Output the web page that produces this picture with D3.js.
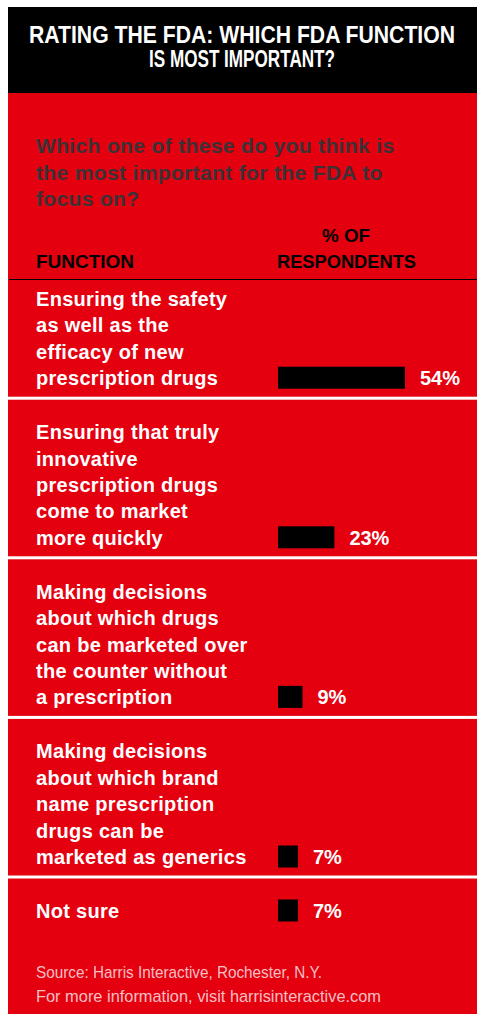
<!DOCTYPE html>
<html>
<head>
<meta charset="utf-8">
<script src="https://cdn.jsdelivr.net/npm/d3@7"></script>
<style>
  body { margin: 0; background: #fff; }
  svg { display: block; }
  text { font-family: "Liberation Sans", Arial, sans-serif; }
</style>
</head>
<body>
<div class="graphic"></div>
<script>
var titleLines = ["RATING THE FDA: WHICH FDA FUNCTION", "IS MOST IMPORTANT?"];
var questionLines = ["Which one of these do you think is", "the most important for the FDA to", "focus on?"];
var functions = [
    ["Ensuring the safety", "as well as the", "efficacy of new", "prescription drugs"],
    ["Ensuring that truly", "innovative", "prescription drugs", "come to market", "more quickly"],
    ["Making decisions", "about which drugs", "can be marketed over", "the counter without", "a prescription"],
    ["Making decisions", "about which brand", "name prescription", "drugs can be", "marketed as generics"],
    ["Not sure"]
];
var percents = [54, 23, 9, 7, 7];
var sourceLines = ["Source: Harris Interactive, Rochester, N.Y.", "For more information, visit harrisinteractive.com"];

var width = 477, height = 1014;
var red = "#e4000f";
var panelX = 8;
var textX = 36;
var barX = 278;
var lineH = 26.4;

var svg = d3.select(".graphic").append("svg")
    .attr("width", width)
    .attr("height", height);

// panels
svg.append("rect").attr("x", panelX).attr("y", 93).attr("width", width - panelX).attr("height", height - 93).attr("fill", red);
svg.append("rect").attr("x", panelX).attr("y", 7).attr("width", width - panelX).attr("height", 86).attr("fill", "#000");

// title (condensed face, squeezed to the widths in the picture)
var titleW = [426, 186];
svg.append("g").selectAll("text")
    .data(titleLines)
    .join("text")
    .attr("x", 242)
    .attr("y", (d, i) => 43 + i * 24)
    .attr("text-anchor", "middle")
    .attr("fill", "#fff")
    .attr("font-weight", "bold")
    .attr("font-size", 23.5)
    .attr("textLength", (d, i) => titleW[i])
    .attr("lengthAdjust", "spacingAndGlyphs")
    .text(d => d);

// question
svg.append("g").selectAll("text")
    .data(questionLines)
    .join("text")
    .attr("x", textX)
    .attr("y", (d, i) => 153 + i * 26.5)
    .attr("fill", "#3b3236")
    .attr("font-weight", "bold")
    .attr("font-size", 21)
    .attr("letter-spacing", 0.35)
    .text(d => d);

// column headers
var head = svg.append("g").attr("font-weight", "bold").attr("font-size", 17.5).attr("fill", "#000");
head.append("text").attr("x", textX).attr("y", 268).attr("textLength", 98).attr("lengthAdjust", "spacingAndGlyphs").text("FUNCTION");
head.append("text").attr("x", 346).attr("y", 242).attr("text-anchor", "middle").attr("textLength", 48).attr("lengthAdjust", "spacingAndGlyphs").text("% OF");
head.append("text").attr("x", 346.5).attr("y", 268).attr("text-anchor", "middle").attr("textLength", 139).attr("lengthAdjust", "spacingAndGlyphs").text("RESPONDENTS");
svg.append("line").attr("x1", 9).attr("x2", width).attr("y1", 279.5).attr("y2", 279.5).attr("stroke", "#000").attr("stroke-width", 1);

// row layout from line counts
var rows = [];
var rowTop = 280;
functions.forEach(function (lines, i) {
    var first = rowTop + (i === 0 ? 26 : 39.5);
    var last = first + (lines.length - 1) * lineH;
    rows.push({ lines: lines, value: percents[i], first: first, last: last, sep: last + 11.5 });
    rowTop = last + 11.5 + 3;
});

var x = d3.scaleLinear()
    .domain([0, d3.max(percents)])
    .range([4, 127]);

var row = svg.append("g").selectAll("g")
    .data(rows)
    .join("g");

row.append("text")
    .attr("fill", "#fff")
    .attr("font-weight", "bold")
    .attr("font-size", 20)
    .attr("letter-spacing", 0.3)
    .selectAll("tspan")
    .data(d => d.lines.map((t, j) => ({ t: t, y: d.first + j * lineH })))
    .join("tspan")
    .attr("x", textX)
    .attr("y", d => d.y)
    .text(d => d.t);

row.append("rect")
    .attr("x", barX)
    .attr("y", d => d.last - 18.5)
    .attr("width", d => x(d.value))
    .attr("height", 22)
    .attr("fill", "#000");

row.append("text")
    .attr("x", d => barX + x(d.value) + 15)
    .attr("y", d => d.last)
    .attr("fill", "#fff")
    .attr("font-weight", "bold")
    .attr("font-size", 20)
    .text(d => d.value + "%");

row.filter((d, i) => i < rows.length - 1)
    .append("rect")
    .attr("x", panelX)
    .attr("y", d => d.sep)
    .attr("width", width - panelX)
    .attr("height", 3)
    .attr("fill", "#fff");

// source
var sourceW = [286, 345];
svg.append("g").selectAll("text")
    .data(sourceLines)
    .join("text")
    .attr("x", textX)
    .attr("y", (d, i) => 978 + i * 23.5)
    .attr("fill", "#fff")
    .attr("fill-opacity", 0.75)
    .attr("font-family", "Roboto, sans-serif")
    .attr("font-weight", 300)
    .attr("font-size", 17)
    .attr("textLength", (d, i) => sourceW[i])
    .attr("lengthAdjust", "spacingAndGlyphs")
    .text(d => d);
</script>
</body>
</html>
